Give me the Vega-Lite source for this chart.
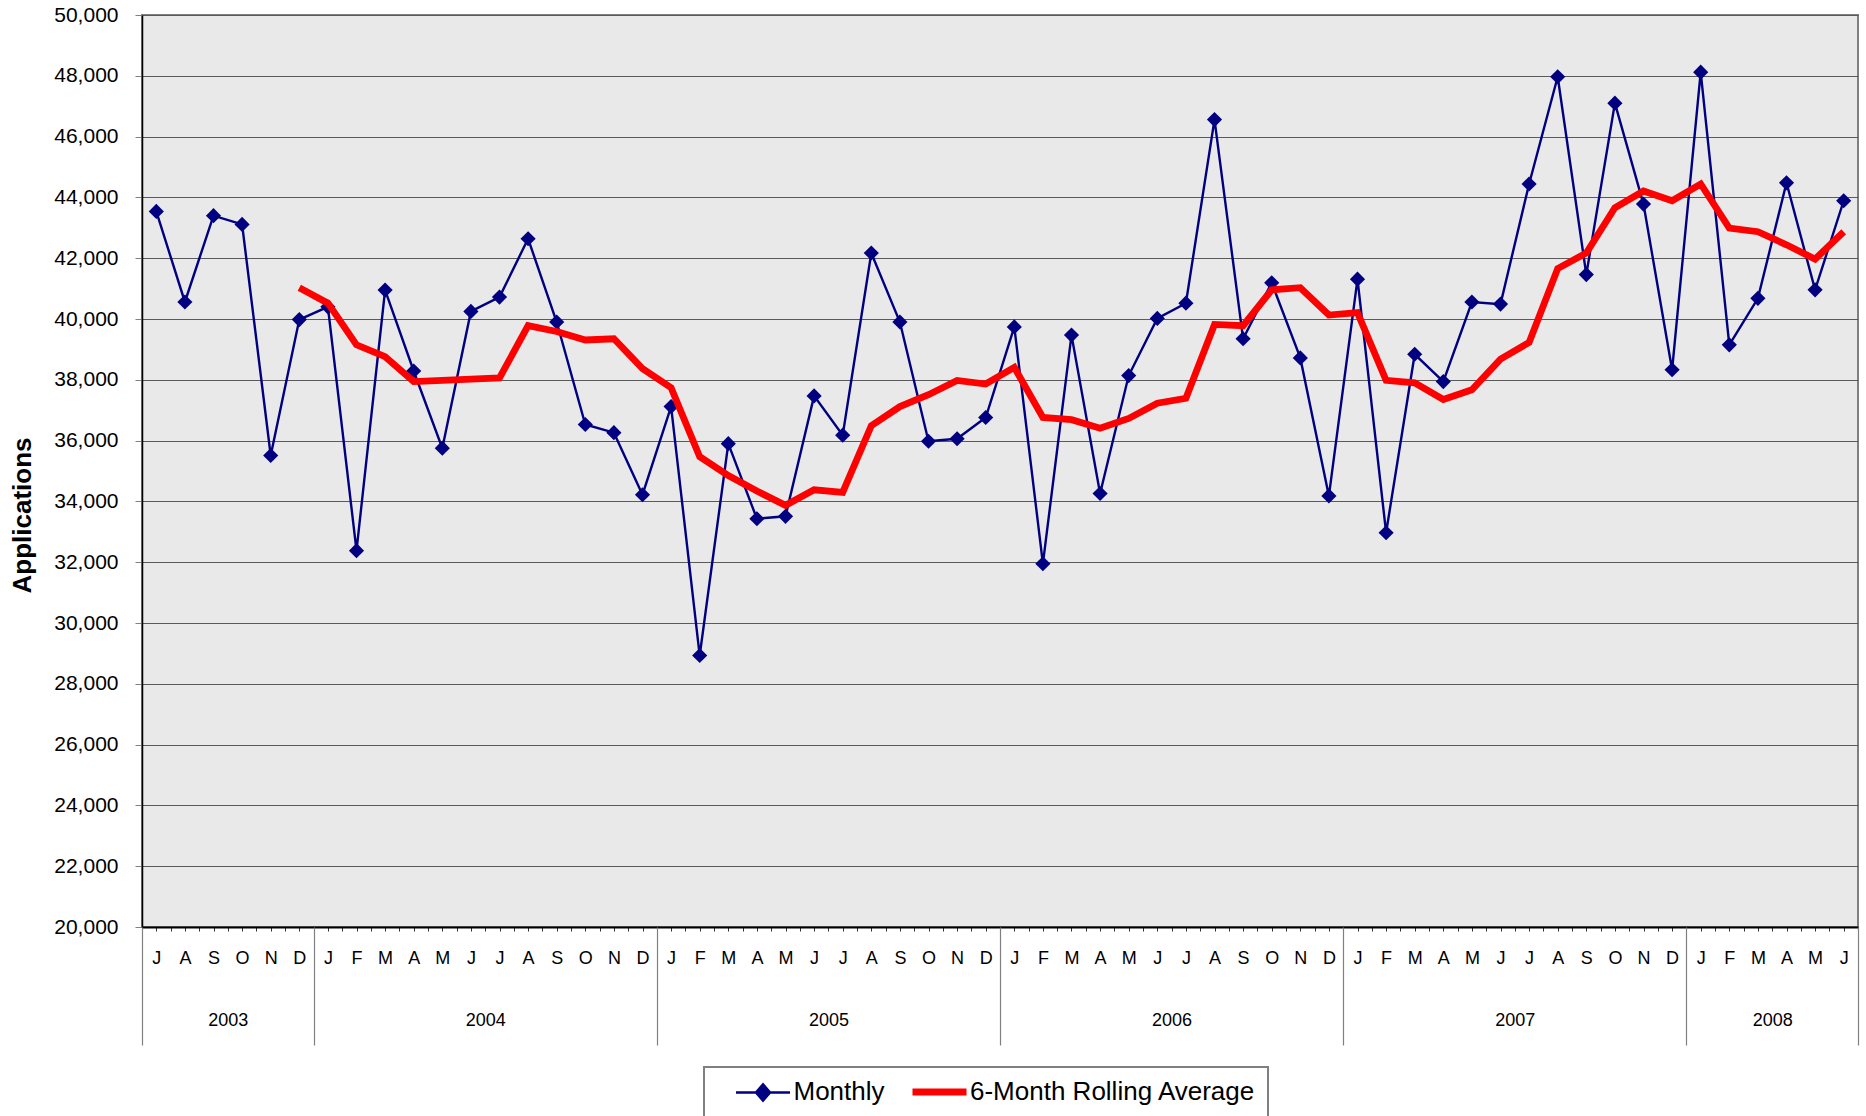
{
  "$schema": "https://vega.github.io/schema/vega-lite/v6.json",
  "width": 1716,
  "height": 912,
  "autosize": {"type": "none"},
  "padding": {"left": 142, "top": 15, "right": 8, "bottom": 189},
  "background": "white",
  "config": {
    "font": "Liberation Sans",
    "view": {"fill": "#e9e9e9", "stroke": "#808080", "strokeWidth": 2},
    "axis": {"labelFont": "Liberation Sans", "titleFont": "Liberation Sans", "labelColor": "black", "titleColor": "black"},
    "legend": {"labelFont": "Liberation Sans", "labelColor": "black"}
  },
  "data": {
    "values": [
      {"month": "2003-07", "t": 0, "monthly": 43540, "avg": null},
      {"month": "2003-08", "t": 1, "monthly": 40560, "avg": null},
      {"month": "2003-09", "t": 2, "monthly": 43400, "avg": null},
      {"month": "2003-10", "t": 3, "monthly": 43110, "avg": null},
      {"month": "2003-11", "t": 4, "monthly": 35510, "avg": null},
      {"month": "2003-12", "t": 5, "monthly": 39980, "avg": 41030},
      {"month": "2004-01", "t": 6, "monthly": 40400, "avg": 40520},
      {"month": "2004-02", "t": 7, "monthly": 32380, "avg": 39150},
      {"month": "2004-03", "t": 8, "monthly": 40950, "avg": 38760},
      {"month": "2004-04", "t": 9, "monthly": 38290, "avg": 37940},
      {"month": "2004-05", "t": 10, "monthly": 35750, "avg": 37980},
      {"month": "2004-06", "t": 11, "monthly": 40250, "avg": 38020},
      {"month": "2004-07", "t": 12, "monthly": 40720, "avg": 38060},
      {"month": "2004-08", "t": 13, "monthly": 42640, "avg": 39780},
      {"month": "2004-09", "t": 14, "monthly": 39900, "avg": 39590},
      {"month": "2004-10", "t": 15, "monthly": 36530, "avg": 39310},
      {"month": "2004-11", "t": 16, "monthly": 36260, "avg": 39350},
      {"month": "2004-12", "t": 17, "monthly": 34220, "avg": 38370},
      {"month": "2005-01", "t": 18, "monthly": 37120, "avg": 37740},
      {"month": "2005-02", "t": 19, "monthly": 28930, "avg": 35470},
      {"month": "2005-03", "t": 20, "monthly": 35900, "avg": 34850},
      {"month": "2005-04", "t": 21, "monthly": 33430, "avg": 34340},
      {"month": "2005-05", "t": 22, "monthly": 33510, "avg": 33870},
      {"month": "2005-06", "t": 23, "monthly": 37470, "avg": 34380},
      {"month": "2005-07", "t": 24, "monthly": 36180, "avg": 34300},
      {"month": "2005-08", "t": 25, "monthly": 42170, "avg": 36490},
      {"month": "2005-09", "t": 26, "monthly": 39900, "avg": 37120},
      {"month": "2005-10", "t": 27, "monthly": 35980, "avg": 37510},
      {"month": "2005-11", "t": 28, "monthly": 36060, "avg": 37980},
      {"month": "2005-12", "t": 29, "monthly": 36760, "avg": 37860},
      {"month": "2006-01", "t": 30, "monthly": 39740, "avg": 38410},
      {"month": "2006-02", "t": 31, "monthly": 31950, "avg": 36760},
      {"month": "2006-03", "t": 32, "monthly": 39470, "avg": 36690},
      {"month": "2006-04", "t": 33, "monthly": 34260, "avg": 36410},
      {"month": "2006-05", "t": 34, "monthly": 38140, "avg": 36730},
      {"month": "2006-06", "t": 35, "monthly": 40020, "avg": 37230},
      {"month": "2006-07", "t": 36, "monthly": 40520, "avg": 37390},
      {"month": "2006-08", "t": 37, "monthly": 46560, "avg": 39820},
      {"month": "2006-09", "t": 38, "monthly": 39350, "avg": 39780},
      {"month": "2006-10", "t": 39, "monthly": 41190, "avg": 40960},
      {"month": "2006-11", "t": 40, "monthly": 38720, "avg": 41030},
      {"month": "2006-12", "t": 41, "monthly": 34180, "avg": 40130},
      {"month": "2007-01", "t": 42, "monthly": 41310, "avg": 40210},
      {"month": "2007-02", "t": 43, "monthly": 32970, "avg": 37980},
      {"month": "2007-03", "t": 44, "monthly": 38840, "avg": 37900},
      {"month": "2007-04", "t": 45, "monthly": 37940, "avg": 37350},
      {"month": "2007-05", "t": 46, "monthly": 40560, "avg": 37670},
      {"month": "2007-06", "t": 47, "monthly": 40490, "avg": 38680},
      {"month": "2007-07", "t": 48, "monthly": 44440, "avg": 39230},
      {"month": "2007-08", "t": 49, "monthly": 47970, "avg": 41660},
      {"month": "2007-09", "t": 50, "monthly": 41460, "avg": 42170},
      {"month": "2007-10", "t": 51, "monthly": 47100, "avg": 43660},
      {"month": "2007-11", "t": 52, "monthly": 43780, "avg": 44210},
      {"month": "2007-12", "t": 53, "monthly": 38330, "avg": 43890},
      {"month": "2008-01", "t": 54, "monthly": 48120, "avg": 44440},
      {"month": "2008-02", "t": 55, "monthly": 39150, "avg": 42990},
      {"month": "2008-03", "t": 56, "monthly": 40680, "avg": 42870},
      {"month": "2008-04", "t": 57, "monthly": 44480, "avg": 42440},
      {"month": "2008-05", "t": 58, "monthly": 40960, "avg": 41970},
      {"month": "2008-06", "t": 59, "monthly": 43890, "avg": 42870}
    ]
  },
  "resolve": {"scale": {"x": "independent"}, "axis": {"x": "independent"}},
  "layer": [
    {
      "mark": {"type": "line", "strokeWidth": 2.4, "point": {"shape": "diamond", "size": 230, "filled": true, "opacity": 1}},
      "encoding": {
        "x": {
          "field": "t", "type": "quantitative",
          "scale": {"domain": [-0.5, 59.5], "nice": false, "zero": false},
          "axis": {
            "orient": "bottom", "title": null, "grid": false, "domain": false, "ticks": false,
            "values": [0,1,2,3,4,5,6,7,8,9,10,11,12,13,14,15,16,17,18,19,20,21,22,23,24,25,26,27,28,29,30,31,32,33,34,35,36,37,38,39,40,41,42,43,44,45,46,47,48,49,50,51,52,53,54,55,56,57,58,59],
            "labelExpr": "['J','A','S','O','N','D','J','F','M','A','M','J'][datum.value % 12]",
            "labelFontSize": 18, "labelPadding": 22, "labelBaseline": "top", "labelOverlap": false, "labelFlush": false
          }
        },
        "y": {
          "field": "monthly", "type": "quantitative", "title": "Applications",
          "scale": {"domain": [20000, 50000], "nice": false, "zero": false},
          "axis": {
            "values": [20000,22000,24000,26000,28000,30000,32000,34000,36000,38000,40000,42000,44000,46000,48000,50000],
            "format": ",d", "labelFontSize": 21, "labelPadding": 17, "tickSize": 7, "tickColor": "#808080",
            "domainColor": "black", "domainWidth": 1.5, "gridColor": "#5a5a5a", "gridWidth": 1,
            "titleFontSize": 26, "titleFontWeight": "bold", "titlePadding": 18, "titleY": 500
          }
        },
        "color": {
          "datum": "Monthly", "type": "nominal",
          "scale": {"domain": ["Monthly", "6-Month Rolling Average"], "range": ["#000080", "#ff0000"]},
          "legend": {
            "orient": "none", "legendX": 562, "legendY": 1052, "direction": "horizontal", "title": null,
            "labelFontSize": 26, "labelLimit": 500, "symbolSize": 2916, "symbolOffset": 34, "labelOffset": 17.5, "columnPadding": 7.5,
            "padding": 12, "strokeColor": "#808080", "fillColor": "white", "symbolType": "stroke",
            "encode": {
              "legend": {"update": {"strokeWidth": {"value": 2}}},
              "symbols": {"update": {
                "shape": {"signal": "datum.value === 'Monthly' ? 'M-1,0L1,0M0,-0.3L0.26,0L0,0.3L-0.26,0Z' : 'stroke'"},
                "strokeWidth": {"signal": "datum.value === 'Monthly' ? 2.5 : 7"},
                "fill": {"signal": "datum.value === 'Monthly' ? '#000080' : 'transparent'"},
                "opacity": {"value": 1}
              }}
            }
          }
        }
      }
    },
    {
      "mark": {"type": "line", "strokeWidth": 6.8},
      "encoding": {
        "x": {
          "field": "t", "type": "quantitative",
          "scale": {"domain": [-0.5, 59.5], "nice": false, "zero": false},
          "axis": {
            "orient": "bottom", "title": null, "grid": false, "labels": false,
            "domain": true, "domainColor": "black", "domainWidth": 2,
            "ticks": true, "tickSize": 4, "tickColor": "#333333", "tickWidth": 1,
            "values": [-0.5,0,0.5,1,1.5,2,2.5,3,3.5,4,4.5,5,5.5,6,6.5,7,7.5,8,8.5,9,9.5,10,10.5,11,11.5,12,12.5,13,13.5,14,14.5,15,15.5,16,16.5,17,17.5,18,18.5,19,19.5,20,20.5,21,21.5,22,22.5,23,23.5,24,24.5,25,25.5,26,26.5,27,27.5,28,28.5,29,29.5,30,30.5,31,31.5,32,32.5,33,33.5,34,34.5,35,35.5,36,36.5,37,37.5,38,38.5,39,39.5,40,40.5,41,41.5,42,42.5,43,43.5,44,44.5,45,45.5,46,46.5,47,47.5,48,48.5,49,49.5,50,50.5,51,51.5,52,52.5,53,53.5,54,54.5,55,55.5,56,56.5,57,57.5,58,58.5,59,59.5]
          }
        },
        "y": {
          "field": "avg", "type": "quantitative", "title": "Applications",
          "scale": {"domain": [20000, 50000], "nice": false, "zero": false},
          "axis": {
            "values": [20000,22000,24000,26000,28000,30000,32000,34000,36000,38000,40000,42000,44000,46000,48000,50000],
            "format": ",d", "labelFontSize": 21, "labelPadding": 17, "tickSize": 7, "tickColor": "#808080",
            "domainColor": "black", "domainWidth": 1.5, "gridColor": "#5a5a5a", "gridWidth": 1,
            "titleFontSize": 26, "titleFontWeight": "bold", "titlePadding": 18, "titleY": 500
          }
        },
        "color": {"datum": "6-Month Rolling Average", "type": "nominal"}
      }
    },
    {
      "mark": {"type": "point", "opacity": 0},
      "encoding": {
        "x": {
          "field": "t", "type": "quantitative",
          "scale": {"domain": [-0.5, 59.5], "nice": false, "zero": false},
          "axis": {
            "orient": "bottom", "title": null, "grid": false, "labels": false, "domain": false,
            "ticks": true, "tickSize": 118, "tickColor": "#808080", "tickWidth": 1.2,
            "values": [-0.5, 5.5, 17.5, 29.5, 41.5, 53.5, 59.5]
          }
        },
        "y": {
          "field": "monthly", "type": "quantitative", "title": "Applications",
          "scale": {"domain": [20000, 50000], "nice": false, "zero": false},
          "axis": {
            "values": [20000,22000,24000,26000,28000,30000,32000,34000,36000,38000,40000,42000,44000,46000,48000,50000],
            "format": ",d", "labelFontSize": 21, "labelPadding": 17, "tickSize": 7, "tickColor": "#808080",
            "domainColor": "black", "domainWidth": 1.5, "gridColor": "#5a5a5a", "gridWidth": 1,
            "titleFontSize": 26, "titleFontWeight": "bold", "titlePadding": 18, "titleY": 500
          }
        }
      }
    },
    {
      "mark": {"type": "point", "opacity": 0},
      "encoding": {
        "x": {
          "field": "t", "type": "quantitative",
          "scale": {"domain": [-0.5, 59.5], "nice": false, "zero": false},
          "axis": {
            "orient": "bottom", "title": null, "grid": false, "domain": false, "ticks": false,
            "values": [2.5, 11.5, 23.5, 35.5, 47.5, 56.5],
            "labelExpr": "'' + (2003 + floor((datum.value + 6) / 12))",
            "labelFontSize": 18, "labelPadding": 84, "labelBaseline": "top", "labelOverlap": false, "labelFlush": false
          }
        },
        "y": {
          "field": "monthly", "type": "quantitative", "title": "Applications",
          "scale": {"domain": [20000, 50000], "nice": false, "zero": false},
          "axis": {
            "values": [20000,22000,24000,26000,28000,30000,32000,34000,36000,38000,40000,42000,44000,46000,48000,50000],
            "format": ",d", "labelFontSize": 21, "labelPadding": 17, "tickSize": 7, "tickColor": "#808080",
            "domainColor": "black", "domainWidth": 1.5, "gridColor": "#5a5a5a", "gridWidth": 1,
            "titleFontSize": 26, "titleFontWeight": "bold", "titlePadding": 18, "titleY": 500
          }
        }
      }
    }
  ]
}
